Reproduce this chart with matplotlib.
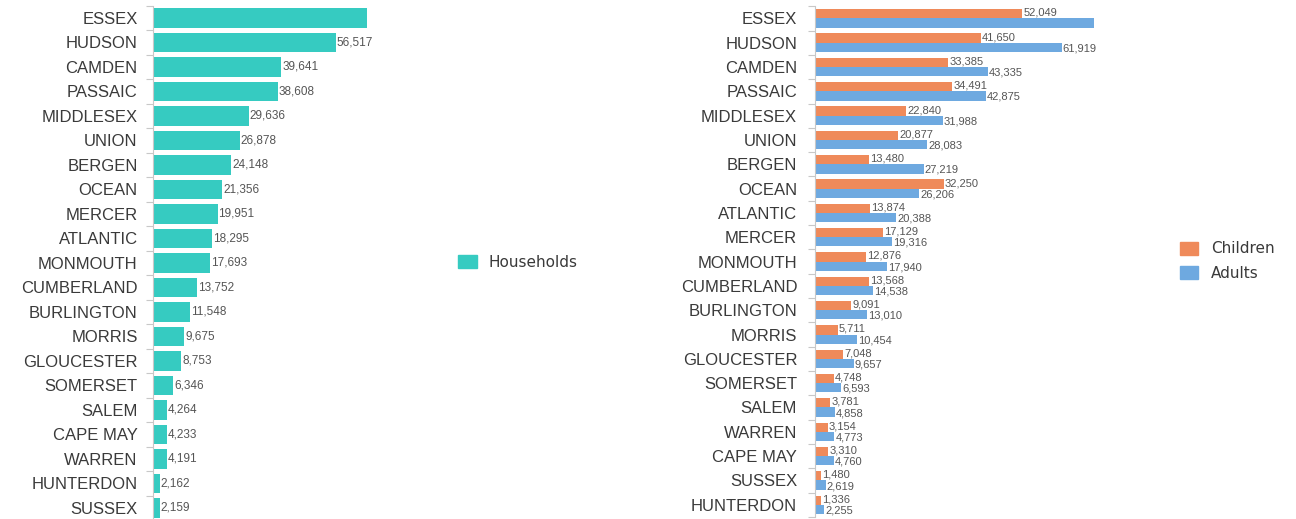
import matplotlib.pyplot as plt
from matplotlib.patches import Patch
import numpy as np

plt.rcParams['font.family'] = ['Liberation Sans', 'DejaVu Sans']

# left chart: households by county
hh_counties = ['ESSEX', 'HUDSON', 'CAMDEN', 'PASSAIC', 'MIDDLESEX', 'UNION', 'BERGEN',
               'OCEAN', 'MERCER', 'ATLANTIC', 'MONMOUTH', 'CUMBERLAND', 'BURLINGTON',
               'MORRIS', 'GLOUCESTER', 'SOMERSET', 'SALEM', 'CAPE MAY', 'WARREN',
               'HUNTERDON', 'SUSSEX']
households = [66000, 56517, 39641, 38608, 29636, 26878, 24148, 21356, 19951, 18295,
              17693, 13752, 11548, 9675, 8753, 6346, 4264, 4233, 4191, 2162, 2159]

# right chart: children / adults by county
pp_counties = ['ESSEX', 'HUDSON', 'CAMDEN', 'PASSAIC', 'MIDDLESEX', 'UNION', 'BERGEN',
               'OCEAN', 'ATLANTIC', 'MERCER', 'MONMOUTH', 'CUMBERLAND', 'BURLINGTON',
               'MORRIS', 'GLOUCESTER', 'SOMERSET', 'SALEM', 'WARREN', 'CAPE MAY',
               'SUSSEX', 'HUNTERDON']
children = [52049, 41650, 33385, 34491, 22840, 20877, 13480, 32250, 13874, 17129,
            12876, 13568, 9091, 5711, 7048, 4748, 3781, 3154, 3310, 1480, 1336]
adults = [70000, 61919, 43335, 42875, 31988, 28083, 27219, 26206, 20388, 19316,
          17940, 14538, 13010, 10454, 9657, 6593, 4858, 4773, 4760, 2619, 2255]

teal = '#36cbc1'
orange = '#ef8a5a'
blue = '#6ea9e0'
txt = '#3a3a3a'
lbl = '#555555'


def style_axis(ax, names, xmax, pad):
    n = len(names)
    ax.set_xlim(0, xmax)
    ax.set_ylim(n - 0.5, -0.5)
    ax.set_yticks(range(n))
    ax.set_yticklabels(names, fontsize=12, color=txt)
    ax.set_yticks(np.arange(-0.5, n, 1.0), minor=True)
    ax.tick_params(axis='y', which='major', length=0, pad=pad)
    ax.tick_params(axis='y', which='minor', length=5, color='#c8c8c8', width=0.8)
    ax.set_xticks([])
    for s in ['top', 'right', 'bottom']:
        ax.spines[s].set_visible(False)
    ax.spines['left'].set_color('#c8c8c8')
    ax.spines['left'].set_linewidth(0.8)


def add_labels(ax, ys, vals, xmax, size):
    for y, v in zip(ys, vals):
        if v >= xmax:
            continue
        ax.text(v + xmax * 0.004, y, f'{v:,}', va='center', ha='left',
                fontsize=size, color=lbl, clip_on=False)


fig = plt.figure(figsize=(12.96, 5.19), dpi=100)

# left
ax1 = fig.add_axes([0.118, -0.002, 0.165, 0.991])
y1 = np.arange(len(hh_counties))
ax1.barh(y1, households, height=0.8, color=teal)
style_axis(ax1, hh_counties, 66000, 11)
add_labels(ax1, y1, households, 66000, 8.5)

# right
ax2 = fig.add_axes([0.629, 0.004, 0.215, 0.984])
y2 = np.arange(len(pp_counties))
bh = 0.38
ax2.barh(y2 - bh / 2, children, height=bh, color=orange)
ax2.barh(y2 + bh / 2, adults, height=bh, color=blue)
style_axis(ax2, pp_counties, 70000, 13)
add_labels(ax2, y2 - bh / 2 - 0.04, children, 70000, 8)
add_labels(ax2, y2 + bh / 2 + 0.04, adults, 70000, 8)

leg_font = {'family': 'DejaVu Sans', 'size': 11}
fig.legend(handles=[Patch(color=teal, label='Households')],
           loc='center left', bbox_to_anchor=(0.343, 0.495), frameon=False,
           prop=leg_font, handlelength=1.2, handleheight=0.9, labelcolor=txt)
fig.legend(handles=[Patch(color=orange, label='Children'), Patch(color=blue, label='Adults')],
           loc='center left', bbox_to_anchor=(0.9, 0.497), frameon=False,
           prop=leg_font, handlelength=1.2, handleheight=0.9, labelcolor=txt,
           labelspacing=0.6)

fig.savefig('out.png', dpi=100)
